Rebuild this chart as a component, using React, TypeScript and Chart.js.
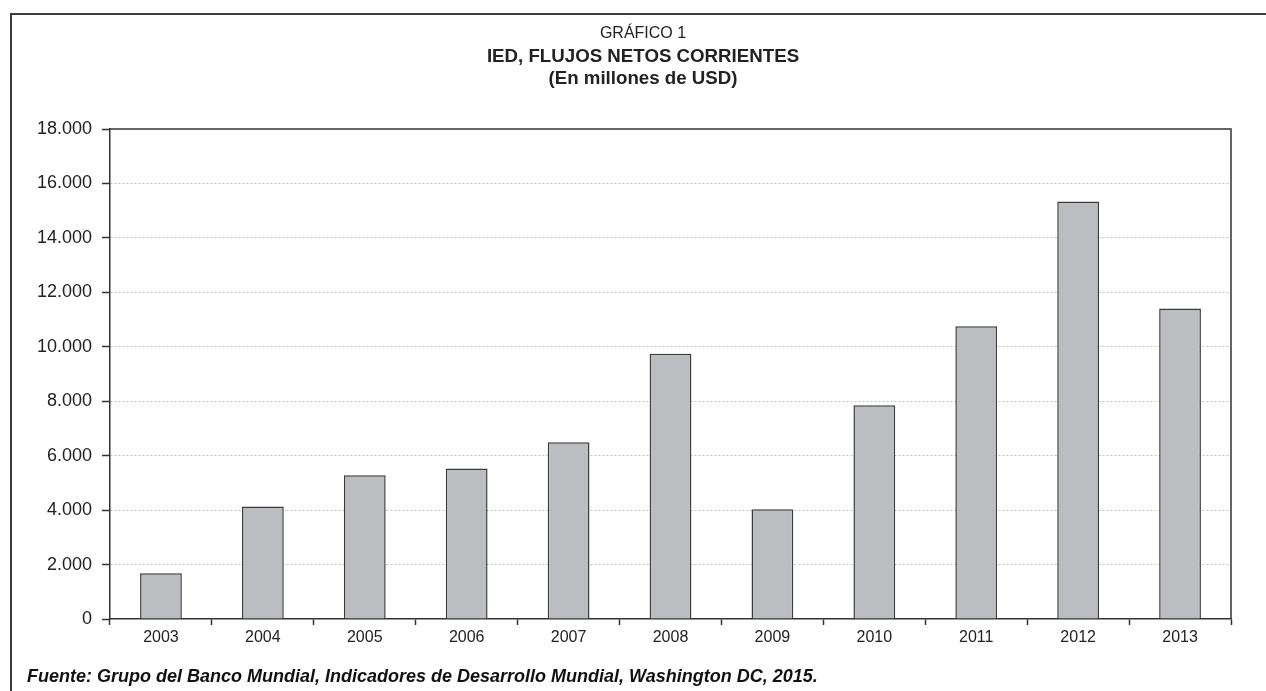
import React, { useEffect, useRef } from "react";
import { Chart, registerables, Plugin } from "chart.js";

Chart.register(...registerables);

// Años y flujos netos de IED (millones de USD)
const years = ["2003", "2004", "2005", "2006", "2007", "2008", "2009", "2010", "2011", "2012", "2013"];
const iedFlows = [1680, 4135, 5280, 5530, 6490, 9740, 4030, 7850, 10750, 15340, 11410];

const yMin = 0;
const yMax = 18000;
const yStep = 2000;

const titleLine = "GRÁFICO 1";
const subtitleLines = ["IED, FLUJOS NETOS CORRIENTES", "(En millones de USD)"];
const sourceNote = "Fuente: Grupo del Banco Mundial, Indicadores de Desarrollo Mundial, Washington DC, 2015.";

const FONT = "'Liberation Sans', Arial, Helvetica, sans-serif";
const AXIS_COLOR = "#333333";
const TEXT_COLOR = "#222222";

const formatThousands = (v: number) => String(v).replace(/\B(?=(\d{3})+(?!\d))/g, ".");

// Heading block above the plot, centred on the page content
const TITLE_CENTER_X = 643;
const headingBlock: Plugin<"bar"> = {
  id: "headingBlock",
  afterDraw(chart) {
    const { ctx } = chart;
    ctx.save();
    ctx.fillStyle = TEXT_COLOR;
    ctx.textAlign = "center";
    ctx.textBaseline = "middle";
    ctx.font = `normal 16px ${FONT}`;
    ctx.fillText(titleLine, TITLE_CENTER_X, 34);
    ctx.font = `bold 18.7px ${FONT}`;
    subtitleLines.forEach((line, i) => ctx.fillText(line, TITLE_CENTER_X, 57 + i * 22));
    ctx.restore();
  },
};

// Closes the plot area with solid top and right edges
const plotFrame: Plugin<"bar"> = {
  id: "plotFrame",
  afterDatasetsDraw(chart) {
    const { ctx, chartArea } = chart;
    ctx.save();
    ctx.strokeStyle = AXIS_COLOR;
    ctx.lineWidth = 1.5;
    ctx.beginPath();
    ctx.moveTo(chartArea.left, chartArea.top);
    ctx.lineTo(chartArea.right, chartArea.top);
    ctx.lineTo(chartArea.right, chartArea.bottom);
    ctx.stroke();
    ctx.restore();
  },
};

export default function App() {
  const canvasRef = useRef<HTMLCanvasElement | null>(null);

  useEffect(() => {
    if (!canvasRef.current) return;
    const chart = new Chart(canvasRef.current, {
      type: "bar",
      data: {
        labels: years,
        datasets: [
          {
            data: iedFlows,
            backgroundColor: "#bcbdc1",
            borderColor: "#3c3c3c",
            borderWidth: 1.5,
            barPercentage: 0.41,
            categoryPercentage: 1.0,
          },
        ],
      },
      options: {
        responsive: false,
        animation: false,
        layout: { padding: { left: 0, right: 35, top: 129, bottom: 0 } },
        plugins: {
          legend: { display: false },
          tooltip: { enabled: false },
          title: { display: false },
        },
        scales: {
          x: {
            offset: true,
            grid: {
              offset: true,
              drawOnChartArea: false,
              drawTicks: true,
              tickLength: 6,
              tickColor: AXIS_COLOR,
              tickWidth: 1.5,
            },
            border: { display: true, color: AXIS_COLOR, width: 1.5 },
            ticks: {
              color: TEXT_COLOR,
              font: { family: FONT, size: 16 },
              padding: 3,
              maxRotation: 0,
            },
            afterFit(scale) {
              scale.height = 72;
            },
          },
          y: {
            min: yMin,
            max: yMax,
            grid: {
              color: (ctx) =>
                ctx.tick && (ctx.tick.value === yMin || ctx.tick.value === yMax) ? "rgba(0,0,0,0)" : "#c2c2c2",
              lineWidth: 1,
              drawTicks: true,
              tickLength: 8,
              tickColor: AXIS_COLOR,
              tickWidth: 1.5,
            },
            border: { display: true, color: AXIS_COLOR, width: 1.5, dash: [2, 2] },
            ticks: {
              stepSize: yStep,
              color: TEXT_COLOR,
              font: { family: FONT, size: 18 },
              padding: 10,
              callback: (v) => formatThousands(Number(v)),
            },
            afterFit(scale) {
              scale.width = 110;
            },
          },
        },
      },
      plugins: [plotFrame, headingBlock],
    });
    return () => chart.destroy();
  }, []);

  return (
    <div
      style={{
        position: "fixed",
        left: 0,
        top: 0,
        width: 1266,
        height: 691,
        background: "#ffffff",
        overflow: "hidden",
      }}
    >
      <div
        style={{
          position: "absolute",
          left: 10,
          top: 13,
          right: 0,
          bottom: 0,
          borderLeft: "2px solid #3c3c3c",
          borderTop: "2px solid #3c3c3c",
        }}
      />
      <canvas
        ref={canvasRef}
        width={1266}
        height={691}
        style={{ position: "absolute", left: 0, top: 0, width: 1266, height: 691 }}
      />
      <div
        style={{
          position: "absolute",
          left: 27,
          top: 666,
          fontFamily: FONT,
          fontSize: 18,
          lineHeight: "20px",
          fontWeight: "bold",
          fontStyle: "italic",
          color: "#111111",
          whiteSpace: "nowrap",
        }}
      >
        {sourceNote}
      </div>
    </div>
  );
}
